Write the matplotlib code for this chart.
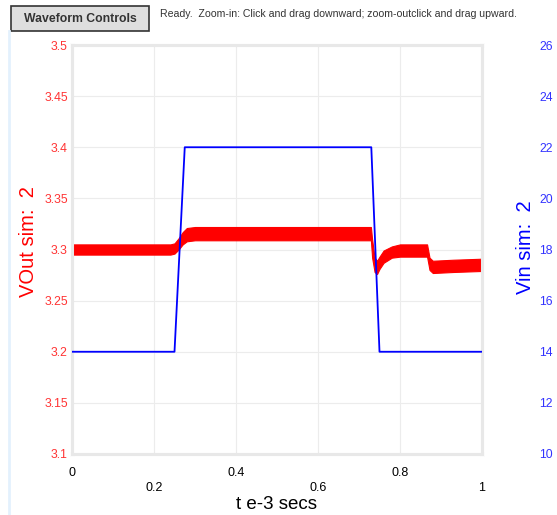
import matplotlib
matplotlib.use("Agg")
import matplotlib.pyplot as plt
from matplotlib.patches import Rectangle
from matplotlib.lines import Line2D

# Vin sim: 2 (right axis, volts)
vin_t = [0.0, 0.25, 0.275, 0.73, 0.75, 1.0]
vin_v = [14, 14, 22, 22, 14, 14]

# VOut sim: 2 (left axis) - envelope of the ripple band
vout_t = [0.0, 0.24, 0.25, 0.26, 0.27, 0.28, 0.30, 0.729, 0.732, 0.738, 0.744,
          0.75, 0.76, 0.78, 0.80, 0.866, 0.872, 0.88, 0.93, 1.0]
vout_lo = [3.295, 3.295, 3.296, 3.300, 3.305, 3.308, 3.309, 3.309, 3.292, 3.278,
           3.276, 3.281, 3.287, 3.292, 3.293, 3.293, 3.280, 3.277, 3.278, 3.279]
vout_hi = [3.305, 3.305, 3.306, 3.311, 3.317, 3.321, 3.322, 3.322, 3.310, 3.292,
           3.289, 3.293, 3.299, 3.303, 3.305, 3.305, 3.292, 3.289, 3.290, 3.291]

xticks = [0, 0.2, 0.4, 0.6, 0.8, 1.0]
xtick_labels = ["0", "\n0.2", "0.4", "\n0.6", "0.8", "\n1"]
left_ticks = [3.1, 3.15, 3.2, 3.25, 3.3, 3.35, 3.4, 3.45, 3.5]
right_ticks = [10, 12, 14, 16, 18, 20, 22, 24, 26]

W, H = 557, 515
fig = plt.figure(figsize=(W / 100, H / 100), dpi=100)
plt.rcParams['font.family'] = ['Liberation Sans', 'DejaVu Sans']

ax = fig.add_axes([72 / W, 1 - 454 / H, 410 / W, 409 / H])
ax2 = ax.twinx()

ax.fill_between(vout_t, vout_lo, vout_hi, color="red", lw=0.8, edgecolor="red", zorder=3)
ax2.plot(vin_t, vin_v, color="blue", lw=1.3, zorder=4)

ax.set_xlim(0, 1)
ax.set_ylim(3.1, 3.5)
ax2.set_ylim(10, 26)
ax.set_xticks(xticks)
ax.set_xticklabels(xtick_labels, fontsize=9, va="top", linespacing=1.4)
ax.set_yticks(left_ticks)
ax.set_yticklabels([("%g" % v) for v in left_ticks], fontsize=8.8, color="#ff3333")
ax2.set_yticks(right_ticks)
ax2.set_yticklabels([str(v) for v in right_ticks], fontsize=8.8, color="#3333ff")

ax.tick_params(axis="both", length=0, pad=3)
ax.tick_params(axis="x", pad=9)
ax2.tick_params(axis="y", length=0, pad=41)

ax.grid(True, color="#ececec", lw=0.8)
ax.set_axisbelow(True)
for a in (ax, ax2):
    for s in a.spines.values():
        s.set_color("#e8e8e8")
        s.set_linewidth(2.2)

ax.set_xlabel("t e-3 secs", fontsize=13.5, labelpad=1.5)
ax.set_ylabel("VOut sim:  2", fontsize=14.5, color="red")
ax.yaxis.set_label_coords((38 - 72) / 410, (454 - 242) / 409)
ax2.set_ylabel("Vin sim:  2", fontsize=14.5, color="blue", rotation=90)
ax2.yaxis.set_label_coords((516 - 72) / 410, (454 - 247) / 409)

# UI chrome: button, status text, left border strip
fig.patches.append(Rectangle((11 / W, 1 - 31 / H), 138 / W, 25 / H, transform=fig.transFigure,
                             facecolor="#dedede", edgecolor="#333333", lw=1.2))
fig.text(80 / W, 1 - 18.5 / H, "Waveform Controls", fontsize=8.8, fontweight="bold",
         color="#333333", ha="center", va="center")
fig.text(160 / W, 1 - 14 / H, "Ready.  Zoom-in: Click and drag downward; zoom-outclick and drag upward.",
         fontsize=7.6, color="#333333", ha="left", va="center")
fig.lines.append(Line2D([9 / W, 9 / W], [0, 1 - 31 / H], transform=fig.transFigure,
                        color="#e3f1fd", lw=2))

fig.savefig("out.png", dpi=100)
